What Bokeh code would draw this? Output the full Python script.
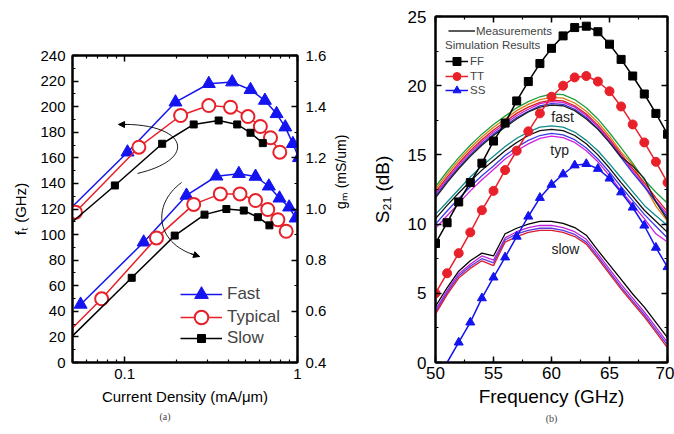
import math
from bokeh.plotting import figure
from bokeh.models import (Range1d, LinearAxis, LogAxis, FixedTicker, NumeralTickFormatter,
                          Legend, LegendItem, Label, Title, Arrow, NormalHead)
from bokeh.layouts import row, column
from bokeh.embed import file_html
from bokeh.resources import INLINE

FONT = "Liberation Sans"

# ---------------- panel (a) data ----------------
# fT (GHz) vs current density (mA/um)
ft_fast_j = [0.05, 0.104, 0.197, 0.307, 0.419, 0.535, 0.648, 0.757, 0.85, 0.94, 1.02]
ft_fast = [122, 164.4, 203.5, 217.9, 219.2, 213.2, 204.8, 194.4, 184, 171, 160]
ft_typ_j = [0.052, 0.121, 0.211, 0.307, 0.41, 0.517, 0.61, 0.698, 0.79]
ft_typ = [117.5, 168.3, 193.1, 200.9, 199.6, 192.3, 184.5, 175.7, 164.4]
ft_slow_j = [0.05, 0.0879, 0.165, 0.251, 0.35, 0.448, 0.535, 0.63]
ft_slow = [110, 138.4, 171, 186.1, 189.2, 186.1, 179.6, 171.5]
# gm (mS/um) vs current density
gm_fast_j = [0.0557, 0.129, 0.228, 0.34, 0.458, 0.572, 0.683, 0.787, 0.895, 0.976]
gm_fast = [0.627, 0.870, 1.053, 1.128, 1.138, 1.127, 1.089, 1.042, 1.007, 0.964]
gm_typ_j = [0.05, 0.0737, 0.153, 0.251, 0.358, 0.465, 0.572, 0.673, 0.77, 0.86]
gm_typ = [0.535, 0.649, 0.887, 1.018, 1.059, 1.059, 1.033, 0.998, 0.958, 0.913]
gm_slow_j = [0.05, 0.11, 0.195, 0.29, 0.388, 0.489, 0.59, 0.688]
gm_slow = [0.504, 0.731, 0.896, 0.978, 1.0, 0.994, 0.968, 0.936]

ft_ticks = list(range(0, 241, 20))
gm_ticks = [0.4, 0.6, 0.8, 1.0, 1.2, 1.4, 1.6]
j_ticks = [0.1, 1.0]

# ---------------- panel (b) data ----------------
freq = list(range(50, 71))
sim_ff = [8.6, 10.1, 11.6, 13.0, 14.4, 16.0, 17.3, 18.9, 20.3, 21.6, 22.7, 23.6, 24.2, 24.3, 23.9, 23.0, 21.9, 20.7, 19.4, 18.0, 16.5]
sim_tt = [5.0, 6.45, 7.9, 9.4, 11.0, 12.4, 13.9, 15.3, 16.7, 18.0, 19.2, 20.0, 20.6, 20.7, 20.3, 19.6, 18.5, 17.2, 15.9, 14.5, 13.0]
sim_ss = [-1.45, 0.0, 1.45, 2.9, 4.65, 6.15, 7.6, 9.1, 10.55, 11.9, 12.85, 13.6, 14.25, 14.35, 14.0, 13.3, 12.3, 11.2, 9.9, 8.3, 6.9]

meas_fast_green = [12.7, 13.8, 14.8, 15.7, 16.5, 17.2, 17.8, 18.4, 18.85, 19.2, 19.4, 19.35, 19.0, 18.4, 17.6, 16.6, 15.5, 14.4, 13.2, 12.3, 11.5]
meas_fast_orange = [12.5, 13.6, 14.6, 15.5, 16.3, 17.0, 17.6, 18.2, 18.65, 19.0, 19.15, 19.1, 18.75, 18.15, 17.35, 16.35, 15.2, 14.3, 12.8, 11.3, 10.2]
meas_fast_red = [12.3, 13.4, 14.4, 15.3, 16.1, 16.8, 17.4, 18.0, 18.45, 18.8, 18.95, 18.9, 18.55, 17.95, 17.15, 16.15, 15.05, 14.0, 13.0, 11.9, 10.9]
meas_fast_magenta = [12.15, 13.25, 14.25, 15.15, 15.95, 16.65, 17.25, 17.85, 18.3, 18.7, 18.85, 18.8, 18.45, 17.85, 17.05, 16.05, 14.95, 13.85, 12.8, 11.7, 10.7]
meas_fast_blue = [12.0, 13.1, 14.1, 15.0, 15.8, 16.5, 17.1, 17.7, 18.15, 18.55, 18.7, 18.65, 18.3, 17.7, 16.9, 15.9, 14.8, 13.7, 12.7, 11.6, 10.5]
meas_fast_black = [11.9, 13.0, 14.0, 14.9, 15.7, 16.4, 17.0, 17.6, 18.1, 18.45, 18.6, 18.55, 18.2, 17.6, 16.85, 15.9, 14.85, 14.2, 13.3, 11.6, 10.3]

meas_typ_teal = [10.7, 11.6, 12.5, 13.4, 14.2, 14.9, 15.6, 16.2, 16.65, 17.0, 17.1, 17.0, 16.65, 16.05, 15.3, 14.35, 13.35, 12.35, 11.35, 10.6, 9.9]
meas_typ_black = [10.4, 11.35, 12.25, 13.1, 13.9, 14.6, 15.3, 15.9, 16.4, 16.75, 16.85, 16.75, 16.4, 15.8, 15.0, 14.05, 13.0, 12.0, 11.0, 10.2, 9.4]
meas_typ_blue = [10.0, 10.95, 11.85, 12.7, 13.5, 14.2, 14.95, 15.55, 16.05, 16.4, 16.55, 16.45, 16.1, 15.5, 14.7, 13.75, 12.7, 11.7, 10.7, 9.85, 9.0]
meas_typ_magenta = [9.7, 10.6, 11.5, 12.4, 13.2, 13.95, 14.7, 15.3, 15.8, 16.2, 16.35, 16.25, 15.9, 15.3, 14.5, 13.5, 12.4, 11.4, 10.4, 9.3, 8.7]

meas_slow_black = [4.05, 5.4, 6.6, 7.35, 7.9, 7.7, 9.3, 9.7, 10.0, 10.2, 10.2, 10.05, 9.75, 9.2, 8.1, 7.05, 6.0, 4.95, 4.0, 2.9, 1.8]
meas_slow_magenta = [3.8, 5.2, 6.4, 7.1, 7.7, 7.4, 9.0, 9.45, 9.75, 9.9, 9.9, 9.75, 9.45, 8.9, 7.85, 6.75, 5.65, 4.65, 3.65, 2.55, 1.45]
meas_slow_blue = [3.65, 5.05, 6.25, 6.95, 7.5, 7.2, 8.85, 9.3, 9.55, 9.7, 9.7, 9.55, 9.25, 8.7, 7.65, 6.55, 5.45, 4.45, 3.45, 2.35, 1.25]
meas_slow_red = [3.5, 4.9, 6.1, 6.8, 7.35, 7.0, 8.7, 9.1, 9.4, 9.55, 9.55, 9.4, 9.1, 8.55, 7.5, 6.4, 5.3, 4.3, 3.3, 2.2, 1.05]

s_ticks = [0, 5, 10, 15, 20, 25]
f_ticks = [50, 55, 60, 65, 70]

BLUE = "#1414f0"
RED = "#e8202a"


def style_axis(ax, size="15px"):
    ax.axis_line_width = 2
    ax.axis_line_color = "black"
    ax.major_tick_in = 6
    ax.major_tick_out = 0
    ax.minor_tick_in = 3
    ax.minor_tick_out = 0
    ax.major_tick_line_width = 1.5
    ax.minor_tick_line_width = 1.2
    ax.major_label_text_font = FONT
    ax.major_label_text_font_size = size
    ax.major_label_text_color = "black"
    ax.axis_label_text_font = FONT
    ax.axis_label_text_font_style = "normal"
    ax.axis_label_text_color = "black"


def mirror(ax):
    style_axis(ax)
    ax.major_label_text_font_size = "1px"
    ax.major_label_text_alpha = 0
    ax.major_label_standoff = 0


def one_legend(label, rends, loc, gw, gh, fs, standoff, **kw):
    return Legend(items=[LegendItem(label=label, renderers=rends)], location=loc,
                  glyph_width=gw, glyph_height=gh, label_height=gh, spacing=0, padding=0, margin=0,
                  label_standoff=standoff, label_text_font=FONT, label_text_font_size=fs,
                  border_line_color=None, background_fill_alpha=0, **kw)


# ================= panel (a) =================
p1 = figure(width=368, height=430, x_axis_type="log", x_range=Range1d(0.05, 1.0),
            y_range=Range1d(0, 240), output_backend="svg", toolbar_location=None, title=None,
            min_border_left=72, min_border_right=71, min_border_top=55, min_border_bottom=68)
p1.extra_y_ranges = {"gm": Range1d(0.4, 1.6)}
p1.grid.visible = False
p1.outline_line_color = "black"
p1.outline_line_width = 2
p1.background_fill_color = "white"
p1.border_fill_color = "white"

jt = FixedTicker(ticks=j_ticks, minor_ticks=[0.05, 0.06, 0.07, 0.08, 0.09, 0.2, 0.3, 0.4, 0.5, 0.6, 0.7, 0.8, 0.9])
xa = p1.xaxis[0]
xa.ticker = jt
xa.formatter = NumeralTickFormatter(format="0.[0]")
style_axis(xa)
xa.major_label_standoff = 6
xa.axis_label = "Current Density (mA/\u03bcm)"
xa.axis_label_text_font_size = "15px"
xa.axis_label_standoff = 6

ya = p1.yaxis[0]
ya.ticker = FixedTicker(ticks=ft_ticks, minor_ticks=list(range(0, 241, 10)))
style_axis(ya)
ya.major_label_standoff = 7
ya.axis_label = "f\u209c (GHz)"
ya.axis_label_text_font_size = "15px"
ya.axis_label_standoff = 8

gma = LinearAxis(y_range_name="gm", ticker=FixedTicker(ticks=gm_ticks, minor_ticks=[0.4 + 0.1 * i for i in range(13)]),
                 formatter=NumeralTickFormatter(format="0.0"))
style_axis(gma)
gma.major_label_standoff = 8
gma.axis_label = "g\u2098 (mS/um)"
gma.axis_label_text_font_size = "14px"
gma.axis_label_standoff = 12
gma.axis_label_orientation = math.pi / 2
p1.add_layout(gma, "right")

top1 = LogAxis(ticker=jt)
mirror(top1)
p1.add_layout(top1, "above")

# series
lf = p1.line(ft_fast_j, ft_fast, line_color=BLUE, line_width=1.5)
mf = p1.scatter(ft_fast_j[1:], ft_fast[1:], marker="triangle", size=13, fill_color=BLUE, line_color=BLUE)
lt = p1.line(ft_typ_j, ft_typ, line_color=RED, line_width=1.5)
mt = p1.scatter(ft_typ_j, ft_typ, marker="circle", size=13, fill_color="white", line_color=RED, line_width=2)
ls = p1.line(ft_slow_j, ft_slow, line_color="black", line_width=1.5)
ms = p1.scatter(ft_slow_j[1:], ft_slow[1:], marker="square", size=7, fill_color="black", line_color="black")

p1.line(gm_fast_j, gm_fast, line_color=BLUE, line_width=1.5, y_range_name="gm")
p1.scatter(gm_fast_j, gm_fast, marker="triangle", size=13, fill_color=BLUE, line_color=BLUE, y_range_name="gm")
p1.line(gm_typ_j, gm_typ, line_color=RED, line_width=1.5, y_range_name="gm")
p1.scatter(gm_typ_j[1:], gm_typ[1:], marker="circle", size=13, fill_color="white", line_color=RED, line_width=2, y_range_name="gm")
p1.line(gm_slow_j, gm_slow, line_color="black", line_width=1.5, y_range_name="gm")
p1.scatter(gm_slow_j[1:], gm_slow[1:], marker="square", size=7, fill_color="black", line_color="black", y_range_name="gm")

# curved arrows (annotation)
p1.bezier(x0=[0.1189], y0=[147.8], cx0=[0.275], cy0=[159.5], cx1=[0.2253], cy1=[187.6], x1=[0.0923], y1=[186.1],
          line_color="black", line_width=0.9)
p1.add_layout(Arrow(end=NormalHead(size=6, fill_color="black", line_color="black"), line_width=0.9,
                    x_start=0.103, y_start=186.0, x_end=0.0923, y_end=186.1))
p1.bezier(x0=[0.2135], y0=[140.7], cx0=[0.1413], cy0=[122.7], cx1=[0.1511], cy1=[91.5], x1=[0.2714], y1=[82.9],
          line_color="black", line_width=0.9)
p1.add_layout(Arrow(end=NormalHead(size=6, fill_color="black", line_color="black"), line_width=0.9,
                    x_start=0.2407, y_start=85.2, x_end=0.2714, y_end=82.9))

p1.add_layout(one_legend("Fast", [lf, mf], (108, 51), 42, 34, "17px", 5))
p1.add_layout(one_legend("Typical", [lt, mt], (108, 28), 42, 34, "17px", 5))
p1.add_layout(one_legend("Slow", [ls, ms], (108, 14), 42, 20, "17px", 5))

p1.add_layout(Title(text="(a)", align="left", offset=87, text_font="Liberation Serif",
                    text_font_size="10px", text_font_style="normal", standoff=2), "below")

# ================= panel (b) =================
p2 = figure(width=306, height=430, x_range=Range1d(50, 70), y_range=Range1d(0, 25),
            output_backend="svg", toolbar_location=None, title=None,
            min_border_left=66, min_border_right=7, min_border_top=16, min_border_bottom=68)
p2.grid.visible = False
p2.outline_line_color = "black"
p2.outline_line_width = 2
p2.background_fill_color = "white"
p2.border_fill_color = "white"

xb = p2.xaxis[0]
xb.ticker = FixedTicker(ticks=f_ticks, minor_ticks=[50 + 2.5 * i for i in range(9)])
style_axis(xb, "17px")
xb.major_label_standoff = 4
xb.axis_label = "Frequency (GHz)"
xb.axis_label_text_font_size = "19px"
xb.axis_label_standoff = 4

yb = p2.yaxis[0]
yb.ticker = FixedTicker(ticks=s_ticks, minor_ticks=[2.5 * i for i in range(11)])
style_axis(yb, "17px")
yb.major_label_standoff = 9
yb.axis_label = "S\u2082\u2081 (dB)"
yb.axis_label_text_font_size = "19px"
yb.axis_label_standoff = 12

topb = LinearAxis(ticker=FixedTicker(ticks=f_ticks, minor_ticks=[50 + 2.5 * i for i in range(9)]))
mirror(topb)
p2.add_layout(topb, "above")
rightb = LinearAxis(ticker=FixedTicker(ticks=s_ticks, minor_ticks=[2.5 * i for i in range(11)]))
mirror(rightb)
p2.add_layout(rightb, "right")

meas = [
    (meas_fast_green, "#1e9e3c"), (meas_fast_orange, "#e07a10"), (meas_fast_red, "#d81e1e"),
    (meas_fast_magenta, "#d020d0"), (meas_fast_blue, "#3030e0"), (meas_fast_black, "#202020"),
    (meas_typ_teal, "#108c8c"), (meas_typ_black, "#101010"), (meas_typ_blue, "#3a3ae8"),
    (meas_typ_magenta, "#d020e0"),
    (meas_slow_black, "#000000"), (meas_slow_magenta, "#c020d8"), (meas_slow_blue, "#5a3ae0"),
    (meas_slow_red, "#d81e30"),
]
meas_r = []
for vals, col in meas:
    meas_r.append(p2.line(freq, vals, line_color=col, line_width=1.3))

lff = p2.line(freq, sim_ff, line_color="black", line_width=1.5)
mff = p2.scatter(freq, sim_ff, marker="square", size=8, fill_color="black", line_color="black")
ltt = p2.line(freq, sim_tt, line_color=RED, line_width=1.5)
mtt = p2.scatter(freq, sim_tt, marker="circle", size=9, fill_color=RED, line_color=RED)
lss = p2.line(freq, sim_ss, line_color=BLUE, line_width=1.5)
mss = p2.scatter(freq[2:], sim_ss[2:], marker="triangle", size=9, fill_color=BLUE, line_color=BLUE)

p2.add_layout(one_legend("Measurements", [meas_r[10]], (13, 324), 27, 15, "11.5px", 1))
p2.add_layout(one_legend("FF", [lff, mff], (10, 291), 23, 20, "11.5px", 2,
                         title="Simulation Results", title_text_font=FONT, title_text_font_size="11.5px",
                         title_text_font_style="normal", title_standoff=0))
p2.add_layout(one_legend("TT", [ltt, mtt], (10, 276), 23, 20, "11.5px", 2))
p2.add_layout(one_legend("SS", [lss, mss], (10, 262), 23, 20, "11.5px", 2))

for txt, fx, sy in [("fast", 60.96, 17.72), ("typ", 60.7, 15.37), ("slow", 61.2, 8.21)]:
    p2.add_layout(Label(x=fx, y=sy, text=txt, text_align="center", text_baseline="middle",
                        text_font=FONT, text_font_size="14px", text_color="#222222"))

p2.add_layout(Title(text="(b)", align="center", text_font="Liberation Serif",
                    text_font_size="10px", text_font_style="normal", standoff=2), "below")

layout = row(column(p1), column(p2))
open("out.html", "w").write(file_html(layout, INLINE))
